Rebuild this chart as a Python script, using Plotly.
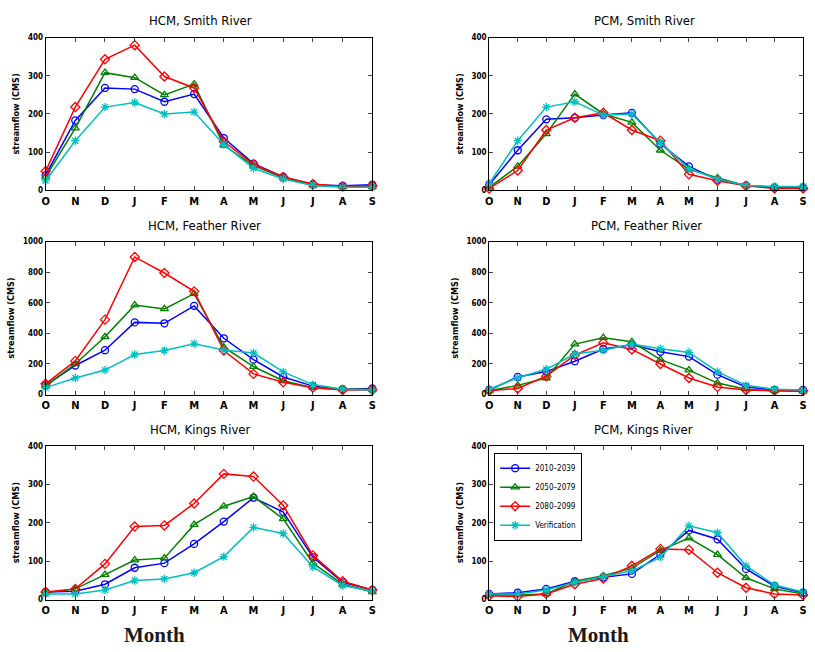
import plotly.graph_objects as go

months = ["O", "N", "D", "J", "F", "M", "A", "M", "J", "J", "A", "S"]
series_names = ["2010\u20132039", "2050\u20132079", "2080\u20132099", "Verification"]

# HCM, Smith River
hcm_smith_2010 = [40, 183, 268, 265, 232, 252, 137, 70, 35, 15, 12, 15]
hcm_smith_2050 = [35, 163, 308, 295, 250, 278, 118, 65, 33, 13, 10, 10]
hcm_smith_2080 = [50, 218, 343, 380, 298, 268, 128, 68, 35, 17, 10, 12]
hcm_smith_ver = [25, 130, 218, 230, 200, 205, 120, 58, 30, 13, 8, 8]

# PCM, Smith River
pcm_smith_2010 = [15, 105, 186, 190, 197, 203, 122, 63, 28, 13, 8, 8]
pcm_smith_2050 = [8, 63, 148, 252, 200, 178, 105, 55, 33, 12, 8, 8]
pcm_smith_2080 = [5, 52, 158, 190, 203, 158, 130, 42, 25, 12, 5, 5]
pcm_smith_ver = [18, 130, 218, 232, 197, 200, 125, 57, 30, 13, 10, 10]

# HCM, Feather River
hcm_feather_2010 = [60, 190, 290, 472, 466, 580, 368, 228, 115, 55, 35, 40]
hcm_feather_2050 = [55, 200, 378, 585, 560, 660, 310, 182, 90, 45, 35, 35]
hcm_feather_2080 = [70, 220, 490, 900, 795, 675, 288, 135, 80, 45, 30, 30]
hcm_feather_ver = [45, 108, 160, 262, 288, 332, 292, 272, 148, 65, 35, 30]

# PCM, Feather River
pcm_feather_2010 = [30, 115, 150, 218, 298, 325, 280, 248, 130, 50, 30, 30]
pcm_feather_2050 = [25, 60, 108, 330, 372, 345, 228, 160, 75, 35, 25, 20]
pcm_feather_2080 = [25, 40, 120, 258, 338, 295, 200, 108, 50, 30, 25, 25]
pcm_feather_ver = [35, 110, 165, 265, 290, 330, 300, 275, 150, 60, 35, 30]

# HCM, Kings River
hcm_kings_2010 = [20, 22, 40, 83, 95, 145, 203, 265, 228, 110, 45, 25]
hcm_kings_2050 = [18, 28, 65, 103, 108, 195, 243, 268, 210, 95, 40, 20]
hcm_kings_2080 = [20, 28, 93, 190, 193, 250, 327, 320, 245, 115, 48, 25]
hcm_kings_ver = [15, 15, 25, 50, 54, 70, 112, 188, 172, 85, 37, 22]

# PCM, Kings River
pcm_kings_2010 = [15, 18, 28, 48, 58, 67, 118, 180, 157, 80, 35, 18]
pcm_kings_2050 = [12, 12, 15, 48, 62, 82, 128, 160, 117, 57, 28, 15]
pcm_kings_2080 = [10, 8, 15, 40, 55, 88, 132, 130, 70, 31, 15, 12]
pcm_kings_ver = [15, 15, 25, 45, 60, 75, 110, 192, 174, 88, 38, 20]

panels = [
    ("HCM, Smith River", [hcm_smith_2010, hcm_smith_2050, hcm_smith_2080, hcm_smith_ver], 400, 100),
    ("PCM, Smith River", [pcm_smith_2010, pcm_smith_2050, pcm_smith_2080, pcm_smith_ver], 400, 100),
    ("HCM, Feather River", [hcm_feather_2010, hcm_feather_2050, hcm_feather_2080, hcm_feather_ver], 1000, 200),
    ("PCM, Feather River", [pcm_feather_2010, pcm_feather_2050, pcm_feather_2080, pcm_feather_ver], 1000, 200),
    ("HCM, Kings River", [hcm_kings_2010, hcm_kings_2050, hcm_kings_2080, hcm_kings_ver], 400, 100),
    ("PCM, Kings River", [pcm_kings_2010, pcm_kings_2050, pcm_kings_2080, pcm_kings_ver], 400, 100),
]

colors = ["#0000FF", "#008000", "#FF0000", "#00BFBF"]
symbols = ["circle-open", "triangle-up-open", "diamond-open", "asterisk-open"]

W, H = 815, 652
x_domains = [[42 / W, 372 / W], [490 / W, 807 / W]]
y_rows_px = [(34, 189), (241, 396), (448, 604)]
y_domains = [[1 - b / H, 1 - t / H] for (t, b) in y_rows_px]
title_px = [(198, 17), (647, 17), (202, 225), (649, 225), (198, 431), (646, 431)]

FONT = "Liberation Sans Narrow, DejaVu Sans Condensed, Arial"

fig = go.Figure()
layout = {}
annotations = []
xs = list(range(len(months)))

for i, (title, data, ymax, dtick) in enumerate(panels):
    row, col = divmod(i, 2)
    n = i + 1
    xa = "x" if n == 1 else f"x{n}"
    ya = "y" if n == 1 else f"y{n}"
    for k, vals in enumerate(data):
        fig.add_trace(go.Scatter(
            x=xs, y=vals, mode="lines+markers", name=series_names[k],
            xaxis=xa, yaxis=ya, showlegend=(i == 5), cliponaxis=False,
            line=dict(color=colors[k], width=1.5),
            marker=dict(symbol=symbols[k], size=7, color=colors[k],
                        line=dict(color=colors[k], width=1.3)),
        ))
    layout["xaxis" if n == 1 else f"xaxis{n}"] = dict(
        domain=x_domains[col], anchor=ya, range=[0, 11],
        tickvals=xs, ticktext=months, ticks="inside", ticklen=4,
        showline=True, linecolor="black", linewidth=1, mirror="ticks",
        showgrid=False, zeroline=False,
        tickfont=dict(family=FONT, size=11, color="black", weight="bold"),
    )
    layout["yaxis" if n == 1 else f"yaxis{n}"] = dict(
        domain=y_domains[row], anchor=xa, range=[0, ymax], dtick=dtick,
        ticks="inside", ticklen=4, showline=True, linecolor="black", linewidth=1,
        mirror="ticks", showgrid=False, zeroline=False,
        tickfont=dict(family=FONT, size=8, color="black", weight="bold"),
        title=dict(text="<b>streamflow (CMS)</b>",
                   font=dict(family=FONT, size=9, color="black"), standoff=6),
    )
    tx, ty = title_px[i]
    annotations.append(dict(
        text=title, x=tx / W, y=1 - ty / H,
        xref="paper", yref="paper", showarrow=False, xanchor="center", yanchor="middle",
        font=dict(family=FONT, size=13, color="black"),
    ))

for xm in (152 / W, 600 / W):
    annotations.append(dict(
        text="<b>Month</b>", x=xm, y=1 - 640 / H, xref="paper", yref="paper",
        showarrow=False, xanchor="center", yanchor="middle",
        font=dict(family="Liberation Serif, Times New Roman", size=21, color="#1a1a1a"),
    ))

fig.update_layout(
    **layout,
    annotations=annotations,
    width=W, height=H,
    margin=dict(l=0, r=0, t=0, b=0),
    paper_bgcolor="white", plot_bgcolor="white",
    legend=dict(
        x=495 / W, y=1 - 455 / H, xanchor="left", yanchor="top",
        bgcolor="white", bordercolor="black", borderwidth=1,
        font=dict(family=FONT, size=8, color="black"),
        tracegroupgap=0, itemwidth=30,
    ),
)

fig.write_html(
    "out.html",
    config={"displayModeBar": False},
    post_script="document.body.style.margin='0';document.body.style.overflow='hidden';",
)
